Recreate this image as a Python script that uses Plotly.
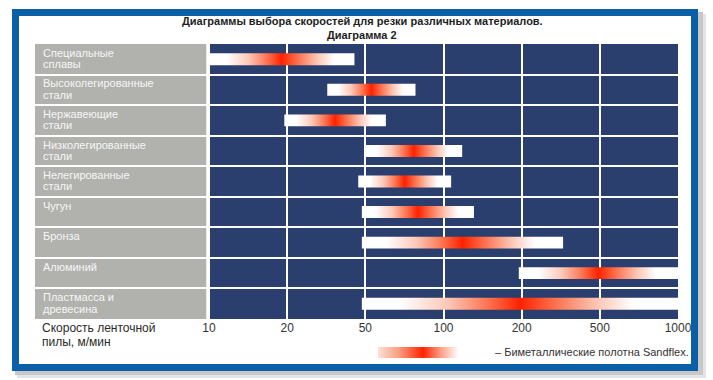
import numpy as np
import plotly.graph_objects as go

W, H = 713, 380

# ---- data ----
label_line1 = ["Специальные", "Высоколегированные", "Нержавеющие", "Низколегированные",
               "Нелегированные", "Чугун", "Бронза", "Алюминий", "Пластмасса и"]
label_line2 = ["сплавы", "стали", "стали", "стали", "стали", "", "", "", "древесина"]
speed_min = [10, 32, 19.5, 50, 46, 48, 48, 195, 48]      # m/min
speed_max = [44, 78, 60, 118, 107, 131, 325, 1000, 1000]  # m/min
tick_values = [10, 20, 50, 100, 200, 500, 1000]
tick_labels = ["10", "20", "50", "100", "200", "500", "1000"]

title_lines = ["Диаграммы выбора скоростей для резки различных материалов.", "Диаграмма 2"]
axis_title_lines = ["Скорость ленточной", "пилы, м/мин"]
legend_text = "– Биметаллические полотна Sandflex."

FONT = "Liberation Sans, Arial, sans-serif"
NAVY = "#2b3f6f"
GRAY = "#b1b2ae"
BLUE = "#0b5fa6"

tick_idx = np.arange(len(tick_values))


def to_axis(v):
    # chart uses equally spaced ticks 10-20-50-100-200-500-1000
    return float(np.interp(np.log(v), np.log(tick_values), tick_idx))


# pixel layout helpers
px = lambda x: x / W
py = lambda y: 1 - y / H
plot_l, plot_r, panel_l = 209, 678, 35
unit = (plot_r - plot_l) / (len(tick_values) - 1)
x_min = -(plot_l - panel_l) / unit

bar_scale = [[0.0, "#ffffff"], [0.12, "#ffffff"], [0.27, "#fcc9b8"], [0.40, "#fd7350"],
             [0.50, "#ff2200"], [0.60, "#fd6a45"], [0.74, "#fcc4b2"], [0.86, "#ffffff"],
             [1.0, "#ffffff"]]

fig = go.Figure()
half = 0.195
for i in range(len(label_line1)):
    x0, x1 = to_axis(speed_min[i]), to_axis(speed_max[i])
    c = i + 0.5
    fig.add_trace(go.Scatter(
        x=[x0, x1, x1, x0, x0], y=[c - half, c - half, c + half, c + half, c - half],
        mode="lines", line=dict(width=0), fill="toself",
        fillgradient=dict(type="horizontal", colorscale=bar_scale),
        hoverinfo="skip", showlegend=False, xaxis="x", yaxis="y"))

# legend swatch on its own small axes
fig.add_trace(go.Scatter(
    x=[0, 1, 1, 0, 0], y=[0, 0, 1, 1, 0], mode="lines", line=dict(width=0), fill="toself",
    fillgradient=dict(type="horizontal", colorscale=[[0, "#fde0d4"], [0.25, "#fb9c80"],
                                                     [0.53, "#ff2400"], [0.75, "#fca58c"],
                                                     [0.95, "#ffffff"], [1, "#ffffff"]]),
    hoverinfo="skip", showlegend=False, xaxis="x2", yaxis="y2"))

shapes = [
    # shadow
    dict(type="rect", xref="paper", yref="paper", x0=px(17), x1=px(706), y0=py(378), y1=py(14),
         fillcolor="#e4e4e4", line=dict(width=0), layer="below"),
    dict(type="rect", xref="paper", yref="paper", x0=px(15), x1=px(703), y0=py(375), y1=py(12),
         fillcolor="#c8c8c8", line=dict(width=0), layer="below"),
    # frame
    dict(type="rect", xref="paper", yref="paper", x0=px(15.5), x1=px(694.5), y0=py(367.5), y1=py(12.5),
         fillcolor="#ffffff", line=dict(color=BLUE, width=7), layer="below"),
    # plot background & label panel
    dict(type="rect", xref="x", yref="y", x0=0, x1=len(tick_values) - 1, y0=0, y1=len(label_line1),
         fillcolor=NAVY, line=dict(width=0), layer="below"),
    dict(type="rect", xref="x", yref="y", x0=x_min, x1=-0.035, y0=0, y1=len(label_line1),
         fillcolor=GRAY, line=dict(width=0), layer="below"),
]

ann = []
for k, t in enumerate(title_lines):
    ann.append(dict(text="<b>%s</b>" % t, x=px(362), y=py(21 + 14 * k), xref="paper", yref="paper",
                    xanchor="center", yanchor="middle", showarrow=False,
                    font=dict(family=FONT, size=11, color="#1e1e1e")))
for i in range(len(label_line1)):
    for k, t in enumerate([label_line1[i], label_line2[i]]):
        if not t:
            continue
        ann.append(dict(text=t, x=px(41), y=i + 0.29 + 0.37 * k, xref="paper", yref="y",
                        xanchor="left", yanchor="middle", showarrow=False,
                        font=dict(family=FONT, size=11, color="#f6f6f6")))
for k, t in enumerate(axis_title_lines):
    ann.append(dict(text=t, x=px(40), y=py(328 + 14 * k), xref="paper", yref="paper",
                    xanchor="left", yanchor="middle", showarrow=False,
                    font=dict(family=FONT, size=12, color="#2a2a2a")))
ann.append(dict(text=legend_text, x=px(493), y=py(352), xref="paper", yref="paper",
                xanchor="left", yanchor="middle", showarrow=False,
                font=dict(family=FONT, size=11, color="#333333")))

fig.update_layout(
    width=W, height=H, autosize=False,
    margin=dict(l=0, r=0, t=0, b=0, pad=0, autoexpand=False),
    paper_bgcolor="#ffffff", plot_bgcolor="rgba(0,0,0,0)",
    showlegend=False,
    shapes=shapes, annotations=ann,
    xaxis=dict(domain=[px(panel_l), px(plot_r)], range=[x_min, len(tick_values) - 1],
               tickvals=list(tick_idx), ticktext=tick_labels, showgrid=True, gridcolor="#ffffff",
               gridwidth=2, zeroline=False, showline=False, ticks="", automargin=False,
               tickfont=dict(family=FONT, size=12, color="#333333"), fixedrange=True,
               anchor="y"),
    yaxis=dict(domain=[py(319), py(44)], range=[len(label_line1), 0],
               tickvals=list(range(len(label_line1) + 1)), showticklabels=False,
               showgrid=True, gridcolor="#ffffff", gridwidth=2, zeroline=False, showline=False,
               ticks="", fixedrange=True, anchor="x", automargin=False),
    xaxis2=dict(domain=[px(378), px(463)], range=[0, 1], visible=False, anchor="y2",
                fixedrange=True, automargin=False),
    yaxis2=dict(domain=[py(358), py(347)], range=[0, 1], visible=False, anchor="x2",
                fixedrange=True, automargin=False),
    font=dict(family=FONT),
)

fig.write_html("out.html", config={"displayModeBar": False},
               post_script="document.body.style.margin='0';document.body.style.padding='0';"
                           "document.body.style.overflow='hidden';")
